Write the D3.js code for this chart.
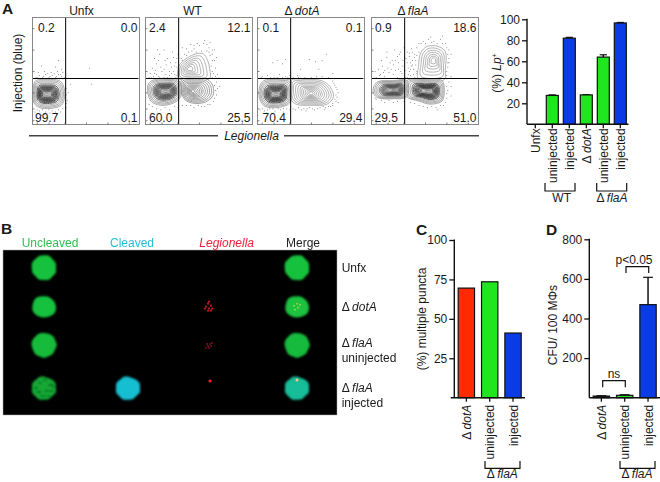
<!DOCTYPE html>
<html><head><meta charset="utf-8">
<script src="https://cdn.jsdelivr.net/npm/d3@7/dist/d3.min.js"></script>
<style>html,body{margin:0;background:#fff}svg{display:block}text{font-family:"Liberation Sans",Arial,sans-serif;fill:#1a1a1a}</style>
</head><body><svg id="c" width="660" height="482"></svg>
<script>
// ---------- Panel A flow data (axes 0-100) ----------
const flowTitles = ["Unfx","WT","dotA","flaA"];
const flowDelta = [false,false,true,true];
const flowQuadrants = [["0.2","0.0","99.7","0.1"],["2.4","12.1","60.0","25.5"],["0.1","0.1","70.4","29.4"],["0.9","18.6","29.5","51.0"]];
const flowGateX = [31,31,31,31];
const flowGateY = [43,43,43,43];
const flowTicks = [4,15,30,50,70,90];
const denseLevels = [1,.93,.86,.78,.7,.64,.59,.55,.51,.47,.43,.39,.34,.29,.24,.19,.14,.09];
const midLevels = [1,.9,.8,.7,.6,.5,.42,.34,.26,.18,.1];
const thinLevels = [1,.84,.68,.54,.4,.28,.16];
const unfxBlob = {c:[13,28],out:[[1,36],[3,41],[14,42],[25,41],[29,36],[30,26],[27,18],[17,15],[6,16],[1,21]],lv:denseLevels,ink:"#222"};
const wtLeft = {c:[19,31],out:[[2,36],[6,41],[18,43],[30,42],[33,36],[33,26],[26,20],[14,18],[5,22]],lv:denseLevels,ink:"#333"};
const wtRight = {c:[44,31],out:[[33,36],[34,42],[46,43],[58,42],[63,36],[63,27],[56,21],[44,20],[36,24]],lv:midLevels,ink:"#555"};
const wtUp = {c:[41,52],out:[[31,43],[31,54],[36,60],[47,66],[54,66],[58,60],[60,52],[60,43],[46,42]],lv:thinLevels,ink:"#777"};
const dotLeft = {c:[17,28],out:[[2,35],[6,41],[18,42],[31,41],[32,30],[30,20],[20,16],[7,17],[2,24]],lv:denseLevels,ink:"#222"};
const dotRight = {c:[50,29],out:[[31,41],[45,42],[60,41],[68,35],[71,26],[65,19],[50,18],[36,19],[31,24]],lv:midLevels,ink:"#777"};
const flaLeft = {c:[21,32],out:[[2,35],[6,40],[20,41],[33,41],[33,26],[20,24],[6,25],[2,29]],lv:denseLevels,ink:"#444"};
const flaRight = {c:[53,31],out:[[33,41],[50,42],[66,41],[68,32],[66,22],[55,19],[44,22],[33,26]],lv:denseLevels,ink:"#222"};
const flaUp = {c:[58,60],out:[[44,42],[44,55],[46,67],[52,73],[62,73],[69,68],[69,52],[68,42]],lv:thinLevels,ink:"#777"};
const flowBlobs = [[unfxBlob],[wtLeft,wtRight,wtUp],[dotLeft,dotRight],[flaLeft,flaRight,flaUp]];
const unfxDots = [[3,44],[6,46],[9,44],[12,47],[15,44],[18,46],[21,44],[24,47],[27,45],[5,49],[11,50],[17,49],[23,50],[28,49],[8,55],[21,54],[24,60],[53,53],[55,38],[2,12],[6,13],[12,12],[18,13],[24,14],[28,15],[32,23],[33,30],[31,16],[8,9],[22,10],[35,38],
 [2,43],[4,44],[7,43],[10,45],[13,43],[16,45],[19,43],[22,45],[25,43],[28,43],[30,44],[14,48],[20,48],[26,47],[4,14],[9,14],[15,14],[21,12],[26,12],[31,20],[31,28],[31,34],[16,11],[11,10],[27,52]];
const wtDots = [[5,44],[8,48],[12,45],[15,50],[18,47],[22,46],[26,50],[28,44],[6,53],[10,57],[14,54],[19,56],[24,54],[28,58],[8,62],[13,66],[20,62],[26,63],[30,66],[17,70],[33,62],[36,66],[40,68],[45,71],[50,74],[54,76],[59,72],[62,66],[64,60],[65,53],[63,48],[62,44],[66,40],[67,34],[66,28],[63,22],[58,19],[52,17],[45,16],[38,18],[30,16],[22,14],[14,14],[6,17],[3,19],[57,75],[48,76],[62,70],[66,63],[67,47],[69,36],[34,72],[42,75],[55,79],[25,68],[11,70],[4,48],[32,48],[29,54],[60,77],
 [3,44],[7,45],[10,47],[13,44],[17,44],[20,44],[24,48],[27,47],[29,46],[9,51],[17,52],[22,50],[27,55],[12,60],[18,60],[23,58],[29,62],[33,56],[34,60],[38,65],[43,69],[47,68],[52,69],[57,69],[60,65],[62,60],[61,55],[62,50],[65,45],[64,37],[65,32],[64,25],[60,19],[55,17],[49,18],[42,18],[34,18],[27,17],[18,16],[10,15],[64,70],[59,68],[45,74],[38,71]];
const dotDots = [[4,45],[9,46],[15,44],[20,47],[26,45],[30,46],[14,58],[18,60],[23,57],[26,61],[48,61],[54,59],[60,60],[57,52],[40,52],[70,48],[64,66],[2,14],[6,13],[11,15],[16,13],[21,14],[27,15],[33,15],[38,16],[43,15],[48,16],[53,14],[58,16],[63,16],[68,17],[70,20],[72,24],[73,28],[74,33],[72,37],[70,41],[66,44],[60,45],[8,11],[24,12],[45,13],[62,14],[55,45],[75,21],
 [3,44],[7,43],[12,44],[18,44],[23,44],[28,44],[33,44],[38,44],[44,44],[50,44],[4,15],[9,14],[14,15],[19,15],[24,15],[30,14],[35,14],[41,14],[46,15],[51,15],[56,15],[61,17],[66,17],[70,18],[73,22],[74,26],[75,30],[73,35],[71,39],[37,46]];
const flaDots = [[4,44],[8,47],[12,45],[16,49],[20,47],[24,44],[28,48],[6,52],[10,55],[15,53],[20,56],[25,52],[29,55],[9,60],[14,63],[19,60],[24,64],[29,60],[33,58],[36,52],[39,47],[34,47],[38,60],[41,56],[33,68],[37,71],[27,68],[21,70],[18,52],[31,44],[40,66],[42,72],[44,76],[48,78],[53,80],[58,78],[64,80],[69,76],[72,70],[72,62],[71,54],[70,46],[72,40],[71,32],[70,25],[67,18],[60,16],[52,16],[44,18],[36,21],[72,58],[74,66],[66,83],[55,82],[74,45],[74,36],[44,68],[35,64],[42,48],[30,72],[25,58],[11,49],[3,50],[74,27],[61,14],
 [33,44],[35,50],[37,55],[39,52],[41,60],[42,50],[40,44],[36,46],[34,53],[36,58],[38,56],[40,63],[42,65],[35,67],[38,68],[31,51],[32,62],[27,50],[22,51],[17,58],[12,51],[7,46],[22,60],[26,66],[14,68],[46,76],[50,76],[56,77],[61,76],[66,76],[70,72],[71,66],[71,58],[70,50],[70,43],[70,36],[70,29],[69,21],[64,18],[56,17],[48,17],[40,20],[30,22],[24,22],[16,23],[9,23],[3,25],[4,24],[12,21],[20,21]];
const flowDots = [unfxDots,wtDots,dotDots,flaDots];
// ---------- Panel A bars ----------
const lpCats = ["Unfx","uninjected","injected","dotA","uninjected ","injected "];
const lpVals = [0,27.5,82,28,64,96.5];
const lpErr = [0,.5,.8,.3,2.2,.5];
const lpCols = ["#1fe61f","#1fe61f","#0a3ce6","#1fe61f","#1fe61f","#0a3ce6"];
const lpTicks = [20,40,60,80,100];
// ---------- Panel B data ----------
const micCols = ["Uncleaved","Cleaved","Legionella","Merge"];
const micColFill = ["#30bd50","#24bfd2","#ea2238","#222"];
const r1 = [12.5,13,12,12.6,12,12.8,12.2,13,12.4,12.8,12,12.5,12.2,12.9,12.2,12.7];
const r2 = [10.5,10.8,11,11.5,12,12.3,11.8,11,10.8,11,11.4,12,11.6,11.5,11.8,11];
const r3 = [12,12.3,12.6,12.2,12.8,12,12.5,12.2,12.8,12.2,12.6,12,12.4,12.6,12,12.4];
const r4 = [11.5,10.8,11.6,12.5,12,12.6,11.5,12.2,11.8,12.5,12,12.7,12,12.5,11.5,12];
const cellBlobs = [
 {col:0,row:0,r:r1,fill:"#15c23c"},{col:3,row:0,r:r1,fill:"#15c23c"},
 {col:0,row:1,r:r2,fill:"#15c23c"},{col:3,row:1,r:r2,fill:"#1dc241"},
 {col:0,row:2,r:r3,fill:"#12bb3a"},{col:3,row:2,r:r3,fill:"#16ba3c"},
 {col:0,row:3,r:r4,fill:"#12a835"},{col:1,row:3,r:r4,fill:"#14bed2"},{col:3,row:3,r:r4,fill:"#16bd98"}];
const mottling = [[7,-3,3,1],[3,3,3,.8],[-4,-5,2,.8],[-5,4,2.5,1],[8,3,2,.8],[-1,8,3,.8],[1,-8,2,.7],[-8,0,1.2,1.2],[5,8,2,.7],[10,-1,2,.8]];
const redSpots = [
 {col:2,row:1,pts:[[-1,-3],[2,-1],[-3,0],[0,2],[3,2],[-1,4],[2,4],[0,-5],[-4,2]],c:"#c8141e",s:1.1},
 {col:2,row:2,pts:[[-1,1],[1,-1],[3,-2],[-3,3],[-2,-1],[0,3],[2,1]],c:"#77101a",s:1},
 {col:2,row:3,pts:[[1,-7]],c:"#f01c2c",s:1.6}];
const yelSpots = [{col:3,row:1,pts:[[-3,-1],[1,1],[-2,3],[3,-2],[0,-3]],c:"#a8d840",s:.9},{col:3,row:3,pts:[[0,-8]],c:"#f0c090",s:1.5}];
const rowLabels = [["","Unfx",271.7],["d","dotA",311],["d","flaA",346.7],["","uninjected",361.7],["d","flaA",392],["","injected",406.7]];
// ---------- Panel C / D ----------
const puncCats = ["dotA","uninjected","injected"];
const puncVals = [69.5,73.5,41];
const puncCols = ["#ff2a00","#1fe61f","#0a3ce6"];
const puncTicks = [25,50,75,100];
const cfuVals = [8,12,470];
const cfuErr = [2,3,138];
const cfuCols = ["#111","#1fe61f","#0a3ce6"];
const cfuTicks = [200,400,600,800];

const svg = d3.select("#c");
const defs = svg.append("defs");
defs.append("filter").attr("id","soft").append("feGaussianBlur").attr("stdDeviation",.9);
defs.append("filter").attr("id","soft2").append("feGaussianBlur").attr("stdDeviation",.45);
defs.append("filter").attr("id","soft3").append("feGaussianBlur").attr("stdDeviation",.3);
const T=(x,y,s,o={})=>{const t=svg.append("text").attr("x",x).attr("y",y).attr("font-size",o.size||12).attr("text-anchor",o.a||"start").text(s);
 if(o.it)t.attr("font-style","italic");if(o.b)t.attr("font-weight","bold");if(o.fill)t.style("fill",o.fill);if(o.rot!=null)t.attr("transform",`rotate(${o.rot} ${x} ${y})`);return t;};
const deltaT=(x,y,name,o={})=>{const t=T(x,y,"",o);t.append("tspan").text("\u0394\u2009");t.append("tspan").attr("font-style","italic").text(name);return t;};
["A",2,14,"B",1,234,"C",416,235,"D",546,235].forEach((v,i,a)=>{if(i%3==0)T(a[i+1],a[i+2],v,{size:15.5,b:true});});

// Flow panels
const boxX=[32.5,145.5,257.5,371.5], boxW=107, boxTop=17.5, boxBot=124.5;
const topLeftPad=[5.5,3.5,5,3.5], botLeftPad=[2.5,3.5,5,3];
flowTitles.forEach((ti,i)=>{
 const x=d3.scaleLinear([0,100],[boxX[i],boxX[i]+boxW]), y=d3.scaleLinear([0,100],[boxBot,boxTop]);
 const g=svg.append("g");
 const soft=g.append("g").attr("filter","url(#soft3)");
 soft.selectAll("rect.d").data(flowDots[i]).join("rect").attr("x",d=>x(d[0])).attr("y",d=>y(d[1])).attr("width",.75).attr("height",.75).attr("fill","#444");
 const line=d3.line().x(d=>x(d[0])).y(d=>y(d[1])).curve(d3.curveCatmullRomClosed.alpha(.5));
 flowBlobs[i].slice().reverse().forEach(b=>{
  const dense=b.lv===denseLevels;
  b.lv.forEach((f,k)=>{
   const fy=dense?Math.pow(f,1.25):f;
   const p=b.out.map(q=>[b.c[0]+(q[0]-b.c[0])*f,b.c[1]+(q[1]-b.c[1])*fy]);
   const core=dense&&f<.72&&f>.25;
   soft.append("path").attr("d",line(p)).attr("fill",k==0?"#fff":"none")
    .attr("stroke",dense&&!core?"#666":b.ink).attr("stroke-width",core?.7:.55);
  });
 });
 g.append("line").attr("x1",x(0)).attr("x2",x(99)).attr("y1",y(flowGateY[i])).attr("y2",y(flowGateY[i])).attr("stroke","#000").attr("stroke-width",1);
 g.append("line").attr("x1",x(flowGateX[i])).attr("x2",x(flowGateX[i])).attr("y1",y(0)).attr("y2",y(100)).attr("stroke","#000").attr("stroke-width",1);
 g.append("rect").attr("x",x(0)).attr("y",boxTop).attr("width",boxW).attr("height",boxBot-boxTop).attr("fill","none").attr("stroke","#888").attr("stroke-width",1);
 g.append("g").attr("transform",`translate(${x(0)},0)`).call(d3.axisLeft(y).tickValues(flowTicks).tickSize(-2).tickFormat("")).call(a=>{a.select(".domain").remove();a.selectAll("line").attr("stroke","#555").attr("stroke-width",.7)});
 g.append("g").attr("transform",`translate(0,${boxBot})`).call(d3.axisBottom(x).tickValues(flowTicks).tickSize(-2).tickFormat("")).call(a=>{a.select(".domain").remove();a.selectAll("line").attr("stroke","#555").attr("stroke-width",.7)});
 const cx=boxX[i]+[49,47,45,42][i];
 if(flowDelta[i]) deltaT(cx-.5,14.5,ti,{a:"middle"}); else T(cx,14.5,ti,{a:"middle"});
 const q=flowQuadrants[i];
 T(boxX[i]+topLeftPad[i],32,q[0]);T(boxX[i]+boxW-2,32,q[1],{a:"end"});T(boxX[i]+botLeftPad[i],122.3,q[2]);T(boxX[i]+boxW-2,122.3,q[3],{a:"end"});
});
T(22,73,"Injection (blue)",{a:"middle",rot:-90});
svg.append("line").attr("x1",29).attr("x2",218).attr("y1",135.7).attr("y2",135.7).attr("stroke","#444").attr("stroke-width",1.6);
svg.append("line").attr("x1",284).attr("x2",479).attr("y1",135.7).attr("y2",135.7).attr("stroke","#444").attr("stroke-width",1.6);
T(251.5,139.7,"Legionella",{a:"middle",it:true});

// generic bars
function bars(o){
 const x=d3.scaleBand().domain(o.cats).range(o.xr).paddingInner(o.pad).paddingOuter(o.out);
 const y=d3.scaleLinear([0,o.max],[o.y0,o.y1]);
 const g=svg.append("g");
 const cxOf=i=>x(o.cats[i])+x.bandwidth()/2;
 if(o.err) o.err.forEach((e,i)=>{ if(e<=0) return;
   g.append("line").attr("x1",cxOf(i)).attr("x2",cxOf(i)).attr("y1",y(o.vals[i])).attr("y2",y(o.vals[i]+e)).attr("stroke","#111").attr("stroke-width",o.ew||1.5);
   g.append("line").attr("x1",x(o.cats[i])+x.bandwidth()*.2).attr("x2",x(o.cats[i])+x.bandwidth()*.8).attr("y1",y(o.vals[i]+e)).attr("y2",y(o.vals[i]+e)).attr("stroke","#111").attr("stroke-width",1.2);
 });
 g.selectAll("rect").data(o.vals).join("rect").attr("x",(d,i)=>x(o.cats[i])).attr("width",x.bandwidth()).attr("y",d=>y(d)).attr("height",d=>o.y0-y(d)).attr("fill",(d,i)=>o.cols[i]).attr("stroke","#111").attr("stroke-width",1.2).style("display",d=>d>0?null:"none");
 const ya=g.append("g").attr("transform",`translate(${o.xa},0)`).call(d3.axisLeft(y).tickValues(o.ticks).tickSize(5).tickPadding(2));
 ya.selectAll("text").attr("font-size",12).attr("font-family","Liberation Sans");
 ya.selectAll("line").attr("stroke","#111").attr("stroke-width",1.3);
 ya.select(".domain").remove();
 g.append("line").attr("x1",o.xa).attr("x2",o.xa).attr("y1",o.y0).attr("y2",o.y1-.6).attr("stroke","#111").attr("stroke-width",1.4);
 g.append("line").attr("x1",o.bx0).attr("x2",o.bx1).attr("y1",o.y0).attr("y2",o.y0).attr("stroke","#111").attr("stroke-width",1.4);
 o.cats.forEach(c=>{const cx=x(c)+x.bandwidth()/2;
  g.append("line").attr("x1",cx).attr("x2",cx).attr("y1",o.y0).attr("y2",o.y0+4).attr("stroke","#111").attr("stroke-width",1.3);
  const lab=c.trim();
  if(lab=="dotA") deltaT(cx+4.5,o.y0+o.lab,lab,{a:"end",rot:-90});
  else T(cx+4.5,o.y0+o.lab,lab,{a:"end",rot:-90});
 });
}
bars({cats:lpCats,vals:lpVals,err:lpErr,cols:lpCols,ticks:lpTicks,max:100,y0:124.3,y1:19.3,xr:[526.8,628.8],pad:.294,out:.147,xa:527,bx0:527,bx1:628.5,lab:4});
bars({cats:puncCats,vals:puncVals,cols:puncCols,ticks:puncTicks,max:100,y0:397.7,y1:240,xr:[454.7,524.7],pad:.3,out:.15,xa:454.3,bx0:450.7,bx1:525,lab:7});
bars({cats:puncCats,vals:cfuVals,err:cfuErr,cols:cfuCols,ticks:cfuTicks,max:800,y0:397.7,y1:239.3,xr:[589.7,659.7],pad:.3,out:.15,xa:589.3,bx0:589.3,bx1:660,lab:7});
T(426,319,"(%) multiple puncta",{a:"middle",rot:-90});
T(557,325,"CFU/ 100 M\u03A6s",{a:"middle",rot:-90});
const yl=T(500.5,73,"",{a:"middle",rot:-90});yl.append("tspan").text("(%) ");yl.append("tspan").attr("font-style","italic").text("Lp");yl.append("tspan").attr("font-size",7).attr("dy",-4).text("+");

function bracket(x0,x1,yt,yb,up){svg.append("path").attr("fill","none").attr("stroke","#111").attr("stroke-width",1.2)
 .attr("d",up?`M${x0},${yb}V${yt}H${x1}V${yb}`:`M${x0},${yt}V${yb}H${x1}V${yt}`);}
bracket(545,575,183,191);T(561.7,201.7,"WT",{a:"middle"});
bracket(596.7,626.7,183,191);deltaT(612,202,"flaA",{a:"middle"});
bracket(485,520,461,468.3);deltaT(502.3,478.3,"flaA",{a:"middle"});
bracket(620,655,461,468.3);deltaT(637,478.3,"flaA",{a:"middle"});
bracket(602.7,625.3,380.7,387.3,true);T(614,377.7,"ns",{a:"middle"});
bracket(626,648.7,266.7,273,true);T(634,264,"p<0.05",{a:"middle"});

// Panel B
svg.append("rect").attr("x",3).attr("y",250).attr("width",334).attr("height",165).attr("fill","#000").attr("stroke","#aaa").attr("stroke-width",.5);
const colXfix=[44,128,209,297];
const rowYfix=[267.7,306.7,345,388];
const micG=svg.append("g").attr("filter","url(#soft)");
const ang=d3.scaleLinear([0,16],[0,2*Math.PI]);
const rad=d3.lineRadial().curve(d3.curveCatmullRomClosed);
cellBlobs.forEach(b=>{
 micG.append("path").attr("transform",`translate(${colXfix[b.col]},${rowYfix[b.row]})`).attr("fill",b.fill)
  .attr("d",rad(b.r.map((r,i)=>[ang(i),r])));
});
mottling.forEach(m=>micG.append("ellipse").attr("cx",colXfix[0]+m[0]).attr("cy",rowYfix[3]+m[1]).attr("rx",m[2]).attr("ry",m[3]).attr("fill","#07601f"));
const spotG=svg.append("g").attr("filter","url(#soft2)");
redSpots.concat(yelSpots).forEach(s=>s.pts.forEach(p=>spotG.append("circle").attr("cx",colXfix[s.col]+p[0]).attr("cy",rowYfix[s.row]+p[1]).attr("r",s.s).attr("fill",s.c)));
micCols.forEach((c,i)=>T([50,132,226.7,303][i],247,c,{a:"middle",fill:micColFill[i],it:i==2}));
rowLabels.forEach(r=>{r[0]?deltaT(341.7,r[2],r[1]):T(341.7,r[2],r[1]);});
</script></body></html>
